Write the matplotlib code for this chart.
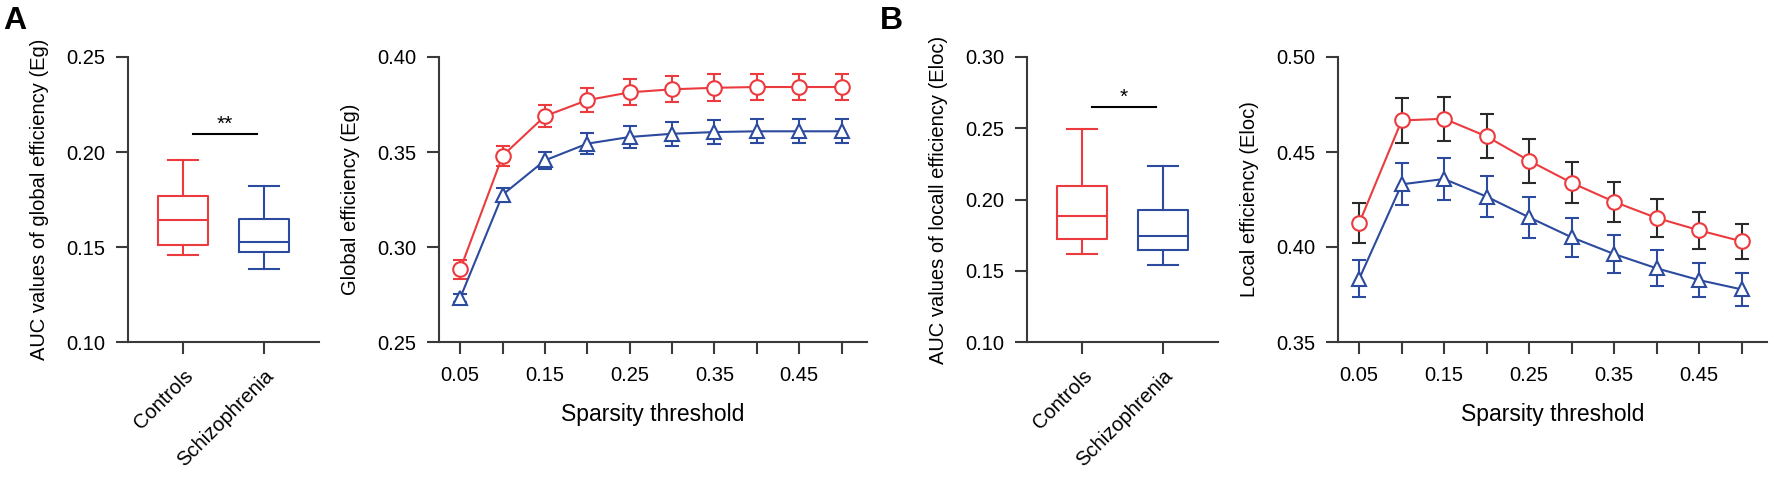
import matplotlib
matplotlib.use("Agg")
import matplotlib.pyplot as plt
import numpy as np

plt.rcParams['font.family'] = ['Liberation Sans', 'DejaVu Sans']

groups = ['Controls', 'Schizophrenia']
red = '#EC3B3F'
blue = '#2C4A9E'
axcol = '#3a3a3a'

# box plot stats (min, q1, median, q3, max)
eg_auc_ctrl = [0.1458, 0.151, 0.164, 0.1768, 0.1958]
eg_auc_scz = [0.1384, 0.1474, 0.1526, 0.1647, 0.182]
eloc_auc_ctrl = [0.1618, 0.1723, 0.1884, 0.2095, 0.2495]
eloc_auc_scz = [0.154, 0.1646, 0.1744, 0.1926, 0.2235]

sparsity = [0.05, 0.10, 0.15, 0.20, 0.25, 0.30, 0.35, 0.40, 0.45, 0.50]
sparsity_labels = ['0.05', '', '0.15', '', '0.25', '', '0.35', '', '0.45', '']

eg_ctrl = [0.2882, 0.3480, 0.3689, 0.3773, 0.3814, 0.3830, 0.3838, 0.3842, 0.3842, 0.3842]
eg_ctrl_err = [0.0048, 0.0053, 0.0060, 0.0064, 0.0068, 0.0069, 0.0070, 0.0070, 0.0070, 0.0070]
eg_scz = [0.2732, 0.3275, 0.3456, 0.3544, 0.3579, 0.3596, 0.3605, 0.3609, 0.3609, 0.3609]
eg_scz_err = [0.0020, 0.0037, 0.0046, 0.0057, 0.0060, 0.0062, 0.0062, 0.0063, 0.0063, 0.0063]

eloc_ctrl = [0.4126, 0.4666, 0.4675, 0.4582, 0.4454, 0.4338, 0.4238, 0.4153, 0.4088, 0.4030]
eloc_ctrl_err = [0.0106, 0.0117, 0.0117, 0.0116, 0.0115, 0.0109, 0.0104, 0.0101, 0.0096, 0.0093]
eloc_scz = [0.3833, 0.4330, 0.4358, 0.4265, 0.4156, 0.4051, 0.3963, 0.3888, 0.3826, 0.3777]
eloc_scz_err = [0.0096, 0.0110, 0.0111, 0.0109, 0.0107, 0.0103, 0.0099, 0.0095, 0.0090, 0.0086]

W, H = 1772, 491
fig = plt.figure(figsize=(W / 100, H / 100), dpi=100)


def px_axes(left, right, top=57, bottom=342):
    return fig.add_axes([left / W, (H - bottom) / H, (right - left) / W, (bottom - top) / H])


def style(ax):
    for s in ['top', 'right']:
        ax.spines[s].set_visible(False)
    for s in ['left', 'bottom']:
        ax.spines[s].set_color(axcol)
        ax.spines[s].set_linewidth(1.5)
    ax.tick_params(direction='out', length=8.5, width=1.5, color=axcol,
                   labelsize=14.5, pad=8)


def box_panel(ax, ctrl, scz, ylim, yticks, ylabel, sig_y, sig_txt):
    stats = []
    for name, s in zip(groups, [ctrl, scz]):
        stats.append(dict(label=name, whislo=s[0], q1=s[1], med=s[2], q3=s[3], whishi=s[4]))
    bp = ax.bxp(stats, positions=[1, 2], widths=0.62, showfliers=False,
                capwidths=0.36, patch_artist=False)
    for i, c in enumerate([red, blue]):
        bp['boxes'][i].set(color=c, linewidth=1.5)
        bp['medians'][i].set(color=c, linewidth=1.5)
        for j in (2 * i, 2 * i + 1):
            bp['whiskers'][j].set(color=c, linewidth=1.5)
            bp['caps'][j].set(color=c, linewidth=1.5)
    ax.set_xlim(0.32, 2.68)
    ax.set_ylim(*ylim)
    ax.set_yticks(yticks)
    ax.set_yticklabels(['%.2f' % v for v in yticks])
    ax.set_xticks([1, 2])
    ax.set_xticklabels(groups, rotation=45, ha='right', rotation_mode='anchor', fontsize=18)
    ax.set_ylabel(ylabel, fontsize=14.5, labelpad=12)
    style(ax)
    ax.tick_params(axis='x', pad=9)
    ax.plot([1.12, 1.92], [sig_y, sig_y], color='black', lw=1.5)
    ax.text(1.52, sig_y, sig_txt, ha='center', va='bottom', fontsize=15)


def line_panel(ax, ctrl, ctrl_err, scz, scz_err, ylim, yticks, ylabel, ctrl_ecolor):
    ax.errorbar(sparsity, ctrl, yerr=ctrl_err, color=red, ecolor=ctrl_ecolor, lw=1.5,
                elinewidth=1.5, capsize=5, capthick=1.5, marker='o', markersize=10.5,
                markerfacecolor='white', markeredgecolor=red, markeredgewidth=1.5, zorder=3)
    ax.errorbar(sparsity, scz, yerr=scz_err, color=blue, ecolor=blue, lw=1.5,
                elinewidth=1.5, capsize=5, capthick=1.5, marker='^', markersize=9.5,
                markerfacecolor='white', markeredgecolor=blue, markeredgewidth=1.5, zorder=3)
    ax.set_xlim(0.025, 0.53)
    ax.set_ylim(*ylim)
    ax.set_yticks(yticks)
    ax.set_yticklabels(['%.2f' % v for v in yticks])
    ax.set_xticks(sparsity)
    ax.set_xticklabels(sparsity_labels)
    ax.set_xlabel('Sparsity threshold', fontsize=16.5, labelpad=13)
    ax.set_ylabel(ylabel, fontsize=14.5, labelpad=12)
    style(ax)
    ax.tick_params(axis='x', pad=9)


ax1 = px_axes(128, 319)
box_panel(ax1, eg_auc_ctrl, eg_auc_scz, (0.10, 0.25), [0.10, 0.15, 0.20, 0.25],
          'AUC values of global efficiency (Eg)', 0.2095, '**')

ax2 = px_axes(439, 867)
line_panel(ax2, eg_ctrl, eg_ctrl_err, eg_scz, eg_scz_err, (0.25, 0.40),
           [0.25, 0.30, 0.35, 0.40], 'Global efficiency (Eg)', red)

ax3 = px_axes(1027, 1218)
box_panel(ax3, eloc_auc_ctrl, eloc_auc_scz, (0.10, 0.30), [0.10, 0.15, 0.20, 0.25, 0.30],
          'AUC values of locall efficiency (Eloc)', 0.265, '*')

ax4 = px_axes(1338, 1767)
line_panel(ax4, eloc_ctrl, eloc_ctrl_err, eloc_scz, eloc_scz_err, (0.35, 0.50),
           [0.35, 0.40, 0.45, 0.50], 'Local efficiency (Eloc)', '#2a2a2a')

fig.text(3 / W, 1 - 29 / H, 'A', fontsize=23, fontweight='bold')
fig.text(880 / W, 1 - 29 / H, 'B', fontsize=23, fontweight='bold')

fig.savefig('out.png', dpi=100)
